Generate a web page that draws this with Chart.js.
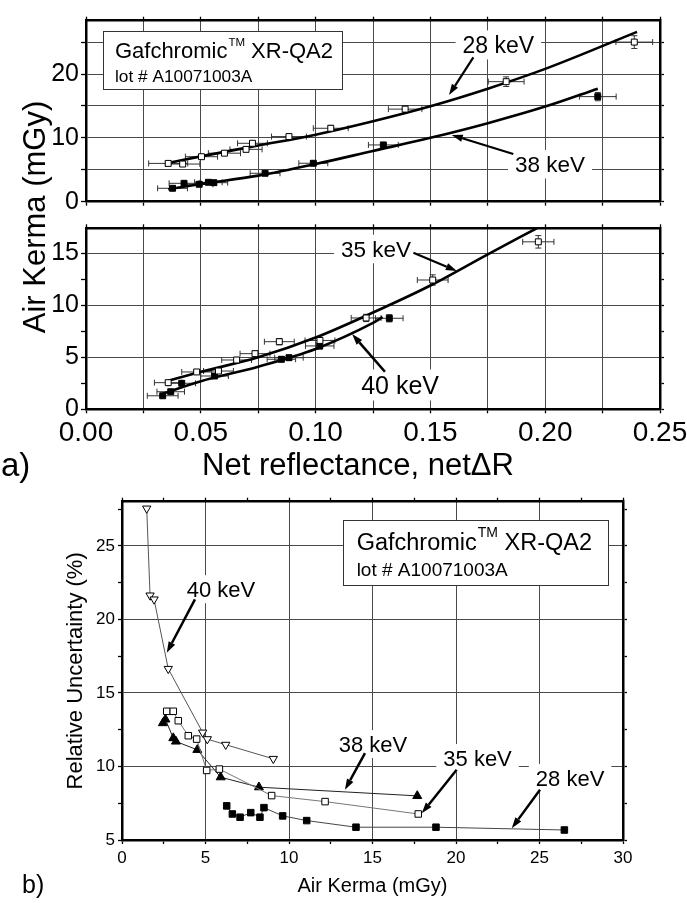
<!DOCTYPE html>
<html><head><meta charset="utf-8"><title>Gafchromic XR-QA2 calibration</title>
<script src="https://cdn.jsdelivr.net/npm/chart.js@4.4.1/dist/chart.umd.min.js"></script>
<style>html,body{margin:0;padding:0;background:#fff}#wrap{position:relative;width:687px;height:903px;overflow:hidden;background:#fff}canvas{position:absolute;left:0}</style>
</head><body><div id="wrap">
<canvas id="cA" width="687" height="490" style="top:0px"></canvas>
<canvas id="cB" width="687" height="490" style="top:0px"></canvas>
<canvas id="cC" width="687" height="413" style="top:490px"></canvas>
</div>
<script>
const FONT = "'Liberation Sans', Arial, Helvetica, sans-serif";
Chart.defaults.font.family = FONT;
Chart.defaults.color = '#000';
Chart.defaults.animation = false;

// ---------- tick values / labels ----------
const a_xTicks = [0, 0.025, 0.05, 0.075, 0.1, 0.125, 0.15, 0.175, 0.2, 0.225, 0.25];
const a_xLabels = ['0.00', '', '0.05', '', '0.10', '', '0.15', '', '0.20', '', '0.25'];
const aUp_yTicks = [0, 5, 10, 15, 20, 25];
const aUp_yLabels = ['0', '', '10', '', '20', ''];
const aLo_yTicks = [0, 2.5, 5, 7.5, 10, 12.5, 15];
const aLo_yLabels = ['0', '', '5', '', '10', '', '15'];
const b_xTicks = [0, 2.5, 5, 7.5, 10, 12.5, 15, 17.5, 20, 22.5, 25, 27.5, 30];
const b_xLabels = ['0', '', '5', '', '10', '', '15', '', '20', '', '25', '', '30'];
const b_yTicks = [5, 7.5, 10, 12.5, 15, 17.5, 20, 22.5, 25, 27.5];
const b_yLabels = ['5', '', '10', '', '15', '', '20', '', '25', ''];

// ---------- panel a, upper: 28 keV (open) and 38 keV (filled) ----------
const a28_netR  = [0.0358, 0.0421, 0.0503, 0.0603, 0.0697, 0.0725, 0.0884, 0.1066, 0.139, 0.183, 0.2388];
const a28_kerma = [6.0, 5.9, 7.05, 7.6, 8.2, 9.15, 10.2, 11.5, 14.5, 18.8, 25.0];
const a28_errR  = [0.0085, 0.0075, 0.007, 0.007, 0.007, 0.0065, 0.0076, 0.0076, 0.0073, 0.0078, 0.008];
const a28_errK  = [0.3, 0.3, 0.3, 0.3, 0.35, 0.35, 0.4, 0.45, 0.55, 0.75, 1.0];
const a28_fitR  = [0.035, 0.05, 0.075, 0.10, 0.125, 0.15, 0.175, 0.20, 0.24];
const a28_fitK  = [6.0, 7.1, 8.8, 10.5, 12.6, 14.95, 17.7, 20.8, 26.6];

const a38_netR  = [0.0377, 0.0427, 0.0493, 0.0533, 0.0557, 0.078, 0.099, 0.1295, 0.2229];
const a38_kerma = [2.1, 2.88, 2.73, 3.04, 2.98, 4.45, 6.02, 8.89, 16.46];
const a38_errR  = [0.0065, 0.0065, 0.006, 0.006, 0.006, 0.0065, 0.0063, 0.0065, 0.008];
const a38_errK  = [0.15, 0.2, 0.2, 0.2, 0.2, 0.25, 0.3, 0.4, 0.65];
const a38_fitR  = [0.0358, 0.05, 0.075, 0.10, 0.125, 0.15, 0.175, 0.20, 0.2229];
const a38_fitK  = [1.94, 2.77, 4.08, 5.9, 7.95, 10.0, 12.3, 14.9, 17.7];

// ---------- panel a, lower: 35 keV (open) and 40 keV (filled) ----------
const a35_netR  = [0.0358, 0.0482, 0.0577, 0.0656, 0.0736, 0.0842, 0.1019, 0.122, 0.151, 0.197];
const a35_kerma = [2.56, 3.59, 3.68, 4.74, 5.35, 6.5, 6.62, 8.78, 12.43, 16.1];
const a35_errR  = [0.006, 0.0065, 0.0065, 0.0065, 0.0065, 0.0065, 0.0065, 0.0065, 0.0067, 0.0068];
const a35_errK  = [0.15, 0.2, 0.2, 0.25, 0.25, 0.3, 0.3, 0.35, 0.5, 0.6];
const a35_fitR  = [0.0358, 0.05, 0.075, 0.10, 0.125, 0.15, 0.175, 0.1963];
const a35_fitK  = [2.75, 3.6, 5.0, 6.9, 9.3, 11.9, 14.9, 17.4];

const a40_netR  = [0.0334, 0.0369, 0.0417, 0.056, 0.0851, 0.0884, 0.1018, 0.1321];
const a40_kerma = [1.3, 1.69, 2.5, 3.2, 4.81, 4.96, 6.09, 8.75];
const a40_errR  = [0.0067, 0.006, 0.006, 0.006, 0.0062, 0.0062, 0.0062, 0.006];
const a40_errK  = [0.1, 0.12, 0.15, 0.2, 0.25, 0.25, 0.3, 0.35];
const a40_fitR  = [0.0334, 0.05, 0.075, 0.10, 0.125, 0.1292];
const a40_fitK  = [1.5, 2.7, 4.1, 5.8, 8.3, 8.85];

// ---------- panel b: relative uncertainty vs air kerma ----------
const b28_kerma = [6.27, 6.61, 7.07, 7.71, 8.26, 8.5, 9.62, 11.06, 14.01, 18.8, 26.49];
const b28_unc   = [7.32, 6.77, 6.55, 6.86, 6.55, 7.2, 6.64, 6.32, 5.87, 5.87, 5.68];
const b35_kerma = [2.68, 3.07, 3.37, 3.97, 4.47, 5.07, 5.83, 8.96, 12.16, 17.74];
const b35_unc   = [13.75, 13.75, 13.11, 12.09, 11.86, 9.73, 9.82, 8.02, 7.61, 6.77];
const b38_kerma = [2.45, 2.6, 3.07, 3.23, 4.51, 5.91, 8.2, 17.68];
const b38_unc   = [12.95, 13.2, 11.93, 11.7, 11.13, 9.27, 8.59, 8.0];
const b40_kerma = [1.48, 1.68, 1.92, 2.77, 4.83, 5.11, 6.21, 9.06];
const b40_unc   = [27.54, 21.63, 21.36, 16.64, 12.31, 11.86, 11.48, 10.52];

// ---------- helpers ----------
function pts(xs, ys) { return xs.map((x, i) => ({ x: x, y: ys[i] })); }

function scale(o) {
  const vertical = o.pos === 'left' || o.pos === 'right';
  return {
    type: 'linear', position: o.pos, min: o.min, max: o.max, display: true,
    afterBuildTicks(s) { s.ticks = o.ticks.map(v => ({ value: v })); },
    afterFit(s) {
      if (vertical) s.width = o.size; else s.height = o.size;
      s.paddingLeft = 0; s.paddingRight = 0; s.paddingTop = 0; s.paddingBottom = 0;
    },
    ticks: {
      display: !!o.labels, autoSkip: false, maxRotation: 0, minRotation: 0, padding: o.pad ?? 3,
      color: '#000', font: { family: FONT, size: o.font || 12 },
      callback: (v, i) => (o.labels ? o.labels[i] : '')
    },
    grid: {
      drawOnChartArea: !!o.grid, drawTicks: true, tickLength: o.tl ?? 4, tickWidth: 1.3, tickColor: '#000', lineWidth: 1,
      color: c => ((o.grid === 'all' || (o.labels && o.labels[c.index] !== '')) ? '#4a4a4a' : 'rgba(0,0,0,0)')
    },
    border: { display: true, color: '#000', width: 2.5 },
    title: o.title || { display: false }
  };
}

const errPlugin = {
  id: 'errbars',
  beforeDatasetsDraw(chart) {
    const ctx = chart.ctx, sx = chart.scales.x, sy = chart.scales.y;
    chart.data.datasets.forEach(ds => {
      if (!ds.errX) return;
      ctx.save();
      ctx.strokeStyle = '#333'; ctx.lineWidth = 1;
      ds.data.forEach((p, i) => {
        const X = sx.getPixelForValue(p.x), Y = sy.getPixelForValue(p.y);
        const x1 = sx.getPixelForValue(p.x - ds.errX[i]), x2 = sx.getPixelForValue(p.x + ds.errX[i]);
        const y1 = sy.getPixelForValue(p.y - ds.errY[i]), y2 = sy.getPixelForValue(p.y + ds.errY[i]);
        ctx.beginPath();
        ctx.moveTo(x1, Y); ctx.lineTo(x2, Y);
        ctx.moveTo(x1, Y - 3); ctx.lineTo(x1, Y + 3);
        ctx.moveTo(x2, Y - 3); ctx.lineTo(x2, Y + 3);
        ctx.moveTo(X, y1); ctx.lineTo(X, y2);
        ctx.moveTo(X - 3, y1); ctx.lineTo(X + 3, y1);
        ctx.moveTo(X - 3, y2); ctx.lineTo(X + 3, y2);
        ctx.stroke();
      });
      ctx.restore();
    });
  }
};

function arrow(ctx, x1, y1, x2, y2, lw, head) {
  const a = Math.atan2(y2 - y1, x2 - x1);
  const hx = x2 - head * Math.cos(a), hy = y2 - head * Math.sin(a);
  ctx.strokeStyle = '#000'; ctx.fillStyle = '#000'; ctx.lineWidth = lw;
  ctx.beginPath(); ctx.moveTo(x1, y1); ctx.lineTo(hx, hy); ctx.stroke();
  const hw = head * 0.33;
  ctx.beginPath(); ctx.moveTo(x2, y2);
  ctx.lineTo(hx + hw * Math.sin(a), hy - hw * Math.cos(a));
  ctx.lineTo(hx - hw * Math.sin(a), hy + hw * Math.cos(a));
  ctx.closePath(); ctx.fill();
}

function drawNotes(chart, n) {
  const ctx = chart.ctx, sx = chart.scales.x, sy = chart.scales.y;
  const X = v => sx.getPixelForValue(v), Y = v => sy.getPixelForValue(v);
  ctx.save();
  if (n.box) {
    const b = n.box;
    const x0 = Math.round(X(b.x0)), x1 = Math.round(X(b.x1)), y0 = Math.round(Y(b.y0)), y1 = Math.round(Y(b.y1));
    ctx.fillStyle = '#fff'; ctx.fillRect(x0, y0, x1 - x0, y1 - y0);
    ctx.strokeStyle = '#333'; ctx.lineWidth = 1; ctx.strokeRect(x0 + 0.5, y0 + 0.5, x1 - x0, y1 - y0);
    ctx.fillStyle = '#000'; ctx.textAlign = 'left'; ctx.textBaseline = 'alphabetic';
    const tx = X(b.tx), b1 = Y(b.base1), b2 = Y(b.base2);
    ctx.font = b.f1 + 'px ' + FONT; ctx.fillText('Gafchromic', tx, b1);
    const w = ctx.measureText('Gafchromic').width;
    ctx.font = b.fTM + 'px ' + FONT; ctx.fillText('TM', tx + w + 1, b1 - b.f1 * 0.56);
    const w2 = ctx.measureText('TM').width;
    ctx.font = b.f1 + 'px ' + FONT; ctx.fillText(' XR-QA2', tx + w + 1 + w2, b1);
    ctx.font = b.f2 + 'px ' + FONT; ctx.fillText('lot # A10071003A', tx, b2);
  }
  (n.labels || []).forEach(l => {
    ctx.font = l.size + 'px ' + FONT;
    const w = ctx.measureText(l.text).width;
    const cx = X(l.x), cy = Y(l.y);
    ctx.fillStyle = '#fff'; ctx.fillRect(cx - w / 2 - 7, cy - l.size * 0.5 - 3, w + 14, l.size + 6);
    ctx.fillStyle = '#000'; ctx.textAlign = 'center'; ctx.textBaseline = 'alphabetic';
    ctx.fillText(l.text, cx, cy + l.size * 0.358);
  });
  (n.arrows || []).forEach(a => arrow(ctx, X(a.x1), Y(a.y1), X(a.x2), Y(a.y2), a.lw || 2.2, a.head || 11));
  ctx.restore();
}

// annotation layout (data units of each panel)
const notesUp = {
  box: { x0: 0.00753, x1: 0.1116, y0: 26.74, y1: 17.6, tx: 0.0126, base1: 22.46, base2: 18.79, f1: 22, fTM: 11.5, f2: 17.3 },
  labels: [{ text: '28 keV', x: 0.1796, y: 24.55, size: 23 }, { text: '38 keV', x: 0.2021, y: 5.87, size: 22.5 }],
  arrows: [{ x1: 0.1687, y1: 22.6, x2: 0.1581, y2: 16.7 }, { x1: 0.1861, y1: 7.47, x2: 0.1593, y2: 10.45 }]
};
const notesLo = {
  labels: [{ text: '35 keV', x: 0.1263, y: 15.41, size: 22.5 }, { text: '40 keV', x: 0.1368, y: 2.34, size: 25 }],
  arrows: [{ x1: 0.1426, y1: 15.06, x2: 0.1615, y2: 13.3 }, { x1: 0.1302, y1: 3.61, x2: 0.1159, y2: 7.24, lw: 2.6 }]
};
const notesB = {
  box: { x0: 13.25, x1: 29.12, y0: 26.77, y1: 22.31, tx: 14.05, base1: 24.72, base2: 22.95, f1: 23.5, fTM: 14, f2: 19 },
  labels: [
    { text: '40 keV', x: 5.93, y: 22.05, size: 22 }, { text: '38 keV', x: 15.03, y: 11.52, size: 22 },
    { text: '35 keV', x: 21.29, y: 10.57, size: 22 }, { text: '28 keV', x: 26.83, y: 9.22, size: 22 }],
  arrows: [
    { x1: 4.37, y1: 21.36, x2: 2.68, y2: 17.73, lw: 2.5 }, { x1: 14.55, y1: 10.91, x2: 13.35, y2: 8.41, lw: 2.5 },
    { x1: 20.04, y1: 9.77, x2: 17.95, y2: 6.82, lw: 2.5 }, { x1: 25.03, y1: 8.41, x2: 23.34, y2: 5.8, lw: 2.5 }]
};

function markers(label, xs, ys, filled, ex, ey) {
  return { label: label, data: pts(xs, ys), showLine: false, pointStyle: 'rect', pointRadius: 4.2,
    pointBackgroundColor: filled ? '#000' : '#fff', pointBorderColor: '#000', pointBorderWidth: 1,
    borderColor: '#000', errX: ex, errY: ey };
}
function fit(label, xs, ys) {
  return { label: label, data: pts(xs, ys), pointRadius: 0, borderColor: '#000', borderWidth: 2.6,
    cubicInterpolationMode: 'monotone', fill: false };
}
const baseOpts = { responsive: false, animation: false, layout: { padding: 0 },
  plugins: { legend: { display: false }, tooltip: { enabled: false } } };

// ---------- chart A : upper panel ----------
new Chart(document.getElementById('cA'), {
  type: 'line',
  data: { datasets: [
    markers('28 keV', a28_netR, a28_kerma, false, a28_errR, a28_errK),
    markers('38 keV', a38_netR, a38_kerma, true, a38_errR, a38_errK),
    fit('28 keV fit', a28_fitR, a28_fitK),
    fit('38 keV fit', a38_fitR, a38_fitK)
  ] },
  options: Object.assign({}, baseOpts, {
    scales: {
      x: scale({ pos: 'bottom', min: 0, max: 0.25, ticks: a_xTicks, grid: 'all', size: 288.3, tl: 4 }),
      x2: scale({ pos: 'top', min: 0, max: 0.25, ticks: a_xTicks, size: 20.7, tl: 4 }),
      y: scale({ pos: 'left', min: 0, max: 28.35, ticks: aUp_yTicks, labels: aUp_yLabels, grid: 'all', size: 86, font: 25, tl: 5, pad: 2 }),
      y2: scale({ pos: 'right', min: 0, max: 28.35, ticks: aUp_yTicks, size: 27, tl: 4 })
    }
  }),
  plugins: [errPlugin, { id: 'notesUp', afterDatasetsDraw(c) { drawNotes(c, notesUp); } }]
});

// ---------- chart B : lower panel ----------
new Chart(document.getElementById('cB'), {
  type: 'line',
  data: { datasets: [
    markers('35 keV', a35_netR, a35_kerma, false, a35_errR, a35_errK),
    markers('40 keV', a40_netR, a40_kerma, true, a40_errR, a40_errK),
    fit('35 keV fit', a35_fitR, a35_fitK),
    fit('40 keV fit', a40_fitR, a40_fitK)
  ] },
  options: Object.assign({}, baseOpts, {
    scales: {
      x: scale({ pos: 'bottom', min: 0, max: 0.25, ticks: a_xTicks, labels: a_xLabels, grid: 'all', size: 80.7, font: 28, tl: 4, pad: 3 }),
      x2: scale({ pos: 'top', min: 0, max: 0.25, ticks: a_xTicks, size: 228.3, tl: 4 }),
      y: scale({ pos: 'left', min: 0, max: 17.4, ticks: aLo_yTicks, labels: aLo_yLabels, grid: 'labeled', size: 86, font: 25, tl: 5, pad: 2 }),
      y2: scale({ pos: 'right', min: 0, max: 17.4, ticks: aLo_yTicks, size: 27, tl: 4 })
    }
  }),
  plugins: [errPlugin, { id: 'notesLo', afterDatasetsDraw(c) {
    drawNotes(c, notesLo);
    const ctx = c.ctx; ctx.save(); ctx.fillStyle = '#000';
    ctx.font = '31px ' + FONT; ctx.textAlign = 'center'; ctx.textBaseline = 'alphabetic';
    ctx.fillText('Net reflectance, net\u0394R', 358, 475);
    ctx.font = '33px ' + FONT; ctx.textAlign = 'left'; ctx.fillText('a)', 1, 476);
    ctx.translate(45, 217); ctx.rotate(-Math.PI / 2); ctx.font = '31px ' + FONT; ctx.textAlign = 'center';
    ctx.fillText('Air Kerma (mGy)', 0, 0);
    ctx.restore();
  } }]
});

// ---------- chart C : panel b ----------
function series(label, xs, ys, style, filled, lineColor, r, rot) {
  return { label: label, data: pts(xs, ys), showLine: true, borderColor: lineColor, borderWidth: 1, tension: 0,
    pointStyle: style, pointRadius: r, pointRotation: rot || 0,
    pointBackgroundColor: filled ? '#000' : '#fff', pointBorderColor: '#000', pointBorderWidth: 1 };
}
new Chart(document.getElementById('cC'), {
  type: 'line',
  data: { datasets: [
    series('28 keV', b28_kerma, b28_unc, 'rect', true, '#444', 4.6),
    series('35 keV', b35_kerma, b35_unc, 'rect', false, '#777', 4.6),
    series('38 keV', b38_kerma, b38_unc, 'triangle', true, '#222', 5.2),
    series('40 keV', b40_kerma, b40_unc, 'triangle', false, '#555', 4.8, 180)
  ] },
  options: Object.assign({}, baseOpts, {
    scales: {
      x: scale({ pos: 'bottom', min: 0, max: 30, ticks: b_xTicks, labels: b_xLabels, grid: 'labeled', size: 63, font: 17, tl: 4, pad: 4,
        title: { display: true, text: 'Air Kerma (mGy)', font: { family: FONT, size: 20 }, color: '#000', padding: { top: 0, bottom: 5 } } }),
      x2: scale({ pos: 'top', min: 0, max: 30, ticks: b_xTicks, size: 11.7, tl: 4 }),
      y: scale({ pos: 'left', min: 5, max: 28, ticks: b_yTicks, labels: b_yLabels, grid: 'labeled', size: 122, font: 17, tl: 4, pad: 3,
        title: { display: true, text: 'Relative Uncertainty (%)', font: { family: FONT, size: 22 }, color: '#000', padding: { top: 62.5, bottom: 0 } } }),
      y2: scale({ pos: 'right', min: 5, max: 28, ticks: b_yTicks, size: 64, tl: 4 })
    }
  }),
  plugins: [{ id: 'notesB', afterDatasetsDraw(c) {
    drawNotes(c, notesB);
    const ctx = c.ctx; ctx.save(); ctx.fillStyle = '#000'; ctx.font = '25px ' + FONT;
    ctx.textAlign = 'left'; ctx.textBaseline = 'alphabetic'; ctx.fillText('b)', 22, 403); ctx.restore();
  } }]
});
</script></body></html>
